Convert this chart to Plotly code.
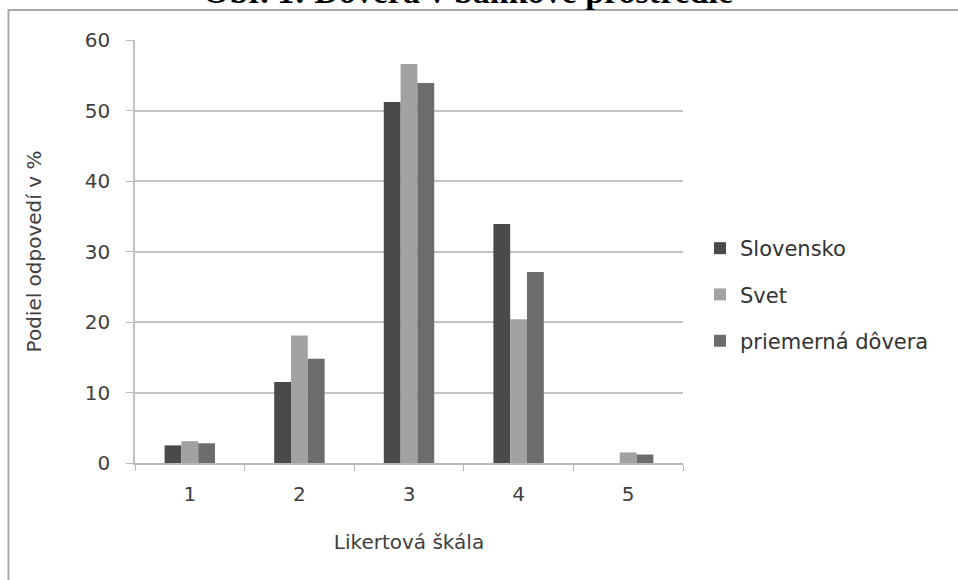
import plotly.graph_objects as go

# Likert scale categories and shares of answers (%)
categories = ["1", "2", "3", "4", "5"]
slovensko = [2.5, 11.5, 51.2, 33.9, 0.0]
svet = [3.1, 18.1, 56.6, 20.4, 1.5]
priemerna = [2.8, 14.8, 53.9, 27.1, 1.2]

series_names = ["Slovensko", "Svet", "priemerná dôvera"]
series_values = [slovensko, svet, priemerna]
series_colors = ["#4a4a4a", "#a2a2a2", "#6c6c6c"]

y_ticks = [0, 10, 20, 30, 40, 50, 60]

FONT = "'DejaVu Sans', sans-serif"
W, H = 958, 580
L, R, T, B = 135, 275, 40, 117
PW, PH = W - L - R, H - T - B


def px_x(px):
    return (px - L) / PW


def px_y(py):
    return (H - B - py) / PH


fig = go.Figure()
for i, (name, vals, col) in enumerate(zip(series_names, series_values, series_colors)):
    fig.add_trace(go.Bar(
        x=categories, y=vals, name=name,
        marker=dict(color=col, line=dict(width=0)),
        legendgroup=f"g{i}",
    ))

fig.update_layout(
    width=W, height=H,
    margin=dict(l=L, r=R, t=T, b=B),
    paper_bgcolor="white", plot_bgcolor="white",
    barmode="group", bargap=0.54, bargroupgap=0,
    font=dict(family=FONT, color="#404040", size=20),
    legend=dict(
        x=px_x(700), y=px_y(228), xanchor="left", yanchor="top",
        font=dict(size=21, color="#333333"),
        tracegroupgap=16, itemwidth=30,
        bgcolor="rgba(0,0,0,0)",
    ),
    xaxis=dict(
        type="category", categoryorder="array", categoryarray=categories,
        showgrid=False, showline=True, linecolor="#b8b8b8", linewidth=1.5,
        ticks="outside", tickson="boundaries", ticklen=6, tickcolor="#b8b8b8",
        tickfont=dict(size=20, color="#404040"), ticklabelstandoff=12,
        title=dict(text="Likertová škála", font=dict(size=20, color="#404040"), standoff=30),
    ),
    yaxis=dict(
        range=[0, 60], tickvals=y_ticks, showgrid=True, gridcolor="#c4c4c4", gridwidth=1.5,
        showline=True, linecolor="#c0c0c0", linewidth=1.5,
        ticks="outside", ticklen=7, tickcolor="#b8b8b8",
        tickfont=dict(size=20, color="#404040"), ticklabelstandoff=12,
        zeroline=False,
        title=dict(text="Podiel odpovedí v %", font=dict(size=20, color="#404040"), standoff=38),
    ),
    shapes=[dict(
        type="rect", xref="paper", yref="paper",
        x0=px_x(8.5), x1=px_x(975), y0=px_y(600), y1=px_y(10),
        line=dict(color="#a9a9a9", width=2), layer="below",
    )],
    annotations=[dict(
        text="<b>Obr. 1: Dôvera v bankové prostredie</b>",
        xref="paper", yref="paper", x=px_x(468), y=px_y(11.5),
        xanchor="center", yanchor="bottom", showarrow=False,
        font=dict(family="'Liberation Serif', 'Times New Roman', serif", size=34, color="#000000"),
    )],
)

fig.write_html("out.html")
